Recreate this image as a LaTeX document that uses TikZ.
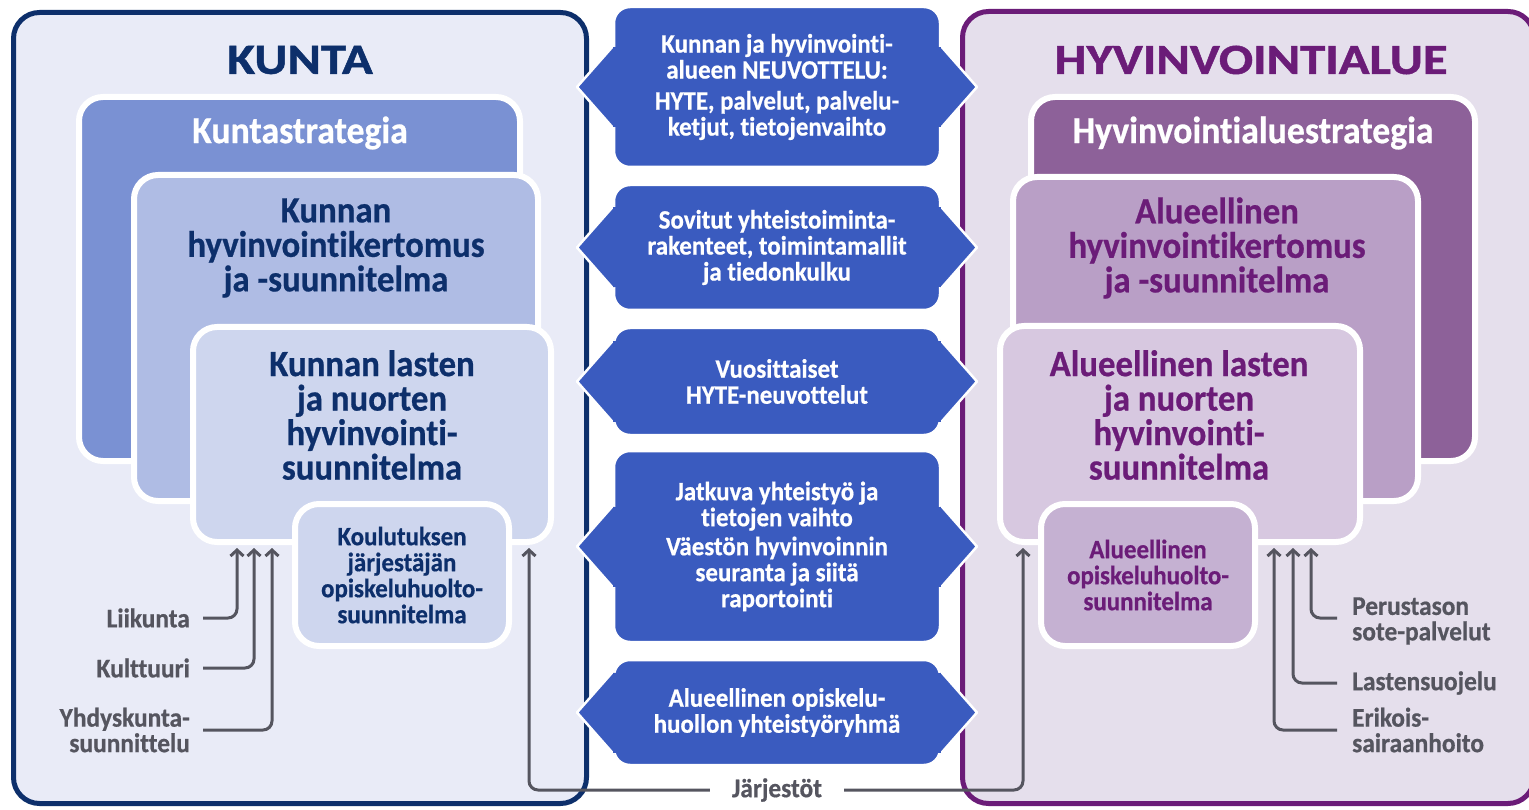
\documentclass[tikz,border=0pt]{standalone}
\usepackage{fontspec}
\setmainfont{Carlito}[FakeStretch=0.94, FakeBold=0.6, Ligatures=NoCommon]
\newfontfamily\headfont{Carlito}[FakeStretch=1.18, FakeBold=1.2]
\usetikzlibrary{positioning}
\usetikzlibrary{arrows.meta}
\usepackage{xcolor}

\definecolor{knavy}{HTML}{0D2F6B}
\definecolor{kbg}{HTML}{E9EBF7}
\definecolor{kstr}{HTML}{7A91D3}
\definecolor{kker}{HTML}{AFBCE4}
\definecolor{klas}{HTML}{CED6EE}
\definecolor{apurple}{HTML}{6B1C78}
\definecolor{abg}{HTML}{E5DFEC}
\definecolor{astr}{HTML}{8D6199}
\definecolor{aker}{HTML}{B99FC6}
\definecolor{alas}{HTML}{D7C8E0}
\definecolor{aopi}{HTML}{C5B1D2}
\definecolor{cblue}{HTML}{3A5BBF}
\definecolor{cgray}{HTML}{55555F}

\begin{document}
\begin{tikzpicture}[x=1pt, y=-1pt,
        frame/.style={rectangle, rounded corners=26pt, line width=5pt, inner sep=0pt, outer sep=0pt},
        box/.style={rectangle, rounded corners=24pt, draw=white, line width=6pt, inner sep=0pt, outer sep=0pt},
        talk/.style={rectangle, rounded corners=16pt, fill=cblue, draw=white, line width=2.5pt,
            minimum width=326pt, inner sep=0pt, outer sep=0pt, text=white, align=center,
            font=\fontsize{26.5}{26}\selectfont\bfseries},
        head/.style={font=\headfont\fontsize{43}{43}\selectfont\bfseries},
        big/.style={align=center, font=\fontsize{37}{34.5}\selectfont\bfseries},
        small/.style={align=center, font=\fontsize{26.5}{26}\selectfont\bfseries},
        lab/.style={text=cgray, font=\fontsize{27}{25.5}\selectfont\bfseries, inner sep=0pt},
        arr/.style={cgray, line width=3pt, rounded corners=9pt, -{Straight Barb[length=6pt,width=13pt]}}
    ]
    \useasboundingbox (0,0) rectangle (1529,810);

    % the two sides
    \node[frame, draw=knavy, fill=kbg, minimum width=573pt, minimum height=791pt] (kunta) at (300,408) {};
    \node[frame, draw=apurple, fill=abg, minimum width=571.5pt, minimum height=792pt] (alue) at (1248.25,407.5) {};
    \node[head, text=knavy] (kuntaT) at (300,60) {KUNTA};
    \node[head, text=apurple] (alueT) at (1251,60) {HYVINVOINTIALUE};

    % kunta
    \node[box, fill=kstr, minimum width=441pt, minimum height=364pt] (strK) at (299.5,279) {};
    \node[big, text=white, font=\fontsize{38}{38}\selectfont\bfseries] (strKt) at (300,133) {Kuntastrategia};
    \node[box, fill=kker, minimum width=404pt, minimum height=326pt] (kerK) at (336,338) {};
    \node[big, text=knavy] (kerKt) at (336,248) {Kunnan\\hyvinvointikertomus\\ja -suunnitelma};
    \node[box, fill=klas, minimum width=358pt, minimum height=215pt] (lasK) at (372,434.5) {};
    \node[big, text=knavy] (lasKt) at (372,415) {Kunnan lasten\\ja nuorten\\hyvinvointi-\\suunnitelma};
    \node[box, fill=klas, minimum width=214pt, minimum height=142pt, small, text=knavy] (kouK) at (402,575)
        {Koulutuksen\\järjestäjän\\opiskeluhuolto-\\suunnitelma};

    % hyvinvointialue
    \node[box, fill=astr, minimum width=444pt, minimum height=364pt] (strA) at (1253,279) {};
    \node[big, text=white, font=\fontsize{38}{38}\selectfont\bfseries] (strAt) at (1253,133) {Hyvinvointialuestrategia};
    \node[box, fill=aker, minimum width=405pt, minimum height=324pt] (kerA) at (1215.5,339) {};
    \node[big, text=apurple] (kerAt) at (1217,248) {Alueellinen\\hyvinvointikertomus\\ja -suunnitelma};
    \node[box, fill=alas, minimum width=360pt, minimum height=216pt] (lasA) at (1180,434) {};
    \node[big, text=apurple] (lasAt) at (1179,415) {Alueellinen lasten\\ja nuorten\\hyvinvointi-\\suunnitelma};
    \node[box, fill=aopi, minimum width=214pt, minimum height=142pt, small, text=apurple] (opiA) at (1148,575)
        {Alueellinen\\opiskeluhuolto-\\suunnitelma};

    % yhteiset
    \node[talk, minimum height=160pt] (neuv) at (777,87)
        {Kunnan ja hyvinvointi-\\alueen NEUVOTTELU:\\[5pt]HYTE, palvelut, palvelu-\\ketjut, tietojenvaihto};
    \node[talk, minimum height=125pt] (sovit) at (777,247.5)
        {Sovitut yhteistoiminta-\\rakenteet, toimintamallit\\ja tiedonkulku};
    \node[talk, minimum height=107pt] (vuos) at (777,381.5)
        {Vuosittaiset\\HYTE-neuvottelut};
    \node[talk, minimum height=191pt] (jatk) at (777,546.5)
        {Jatkuva yhteistyö ja\\tietojen vaihto\\[3pt]Väestön hyvinvoinnin\\seuranta ja siitä\\raportointi};
    \node[talk, minimum height=105pt] (ryhma) at (777,712.5)
        {Alueellinen opiskelu-\\huollon yhteistyöryhmä};
    \foreach \n in {neuv,sovit,vuos,jatk,ryhma}{
        \filldraw[fill=cblue, draw=white, line width=2.5pt, line join=round]
            ([yshift=42pt]\n.west) -- ([xshift=-37pt]\n.west) -- ([yshift=-42pt]\n.west);
        \filldraw[fill=cblue, draw=white, line width=2.5pt, line join=round]
            ([yshift=42pt]\n.east) -- ([xshift=37pt]\n.east) -- ([yshift=-42pt]\n.east);
        \fill[cblue] ([xshift=-1pt,yshift=40pt]\n.west) rectangle ([xshift=3pt,yshift=-40pt]\n.west);
        \fill[cblue] ([xshift=1pt,yshift=40pt]\n.east) rectangle ([xshift=-3pt,yshift=-40pt]\n.east);
    }

    % sektorit
    \node[lab, anchor=east] (liik) at (190,618) {Liikunta};
    \node[lab, anchor=east] (kult) at (190,668) {Kulttuuri};
    \node[lab, anchor=east, align=right] (yhd) at (190,730) {Yhdyskunta-\\suunnittelu};
    \node[lab, anchor=west, align=left] (perus) at (1352,621) {Perustason\\sote-palvelut};
    \node[lab, anchor=west] (lsuo) at (1352,683) {Lastensuojelu};
    \node[lab, anchor=west, align=left] (erik) at (1352,730) {Erikois-\\sairaanhoito};
    \node[lab] (jarj) at (777,790) {Järjestöt};

    \coordinate (pLiik) at (237,548);
    \coordinate (pKult) at (254,548);
    \coordinate (pYhd) at (272,548);
    \coordinate (pJK) at (529,548);
    \coordinate (pJA) at (1023,548);
    \coordinate (pErik) at (1274,548);
    \coordinate (pLsuo) at (1293,548);
    \coordinate (pPerus) at (1311,548);

    \draw[arr, shorten <=13pt] (liik.east) -| (pLiik);
    \draw[arr, shorten <=13pt] (kult.east) -| (pKult);
    \draw[arr, shorten <=13pt] (yhd.east) -| (pYhd);
    \draw[arr, shorten <=15pt] (perus.west |- 0,618) -| (pPerus);
    \draw[arr, shorten <=15pt] (lsuo.west) -| (pLsuo);
    \draw[arr, shorten <=15pt] (erik.west) -| (pErik);
    \draw[arr, shorten <=22pt] (jarj.west) -| (pJK);
    \draw[arr, shorten <=22pt] (jarj.east) -| (pJA);
\end{tikzpicture}
\end{document}
